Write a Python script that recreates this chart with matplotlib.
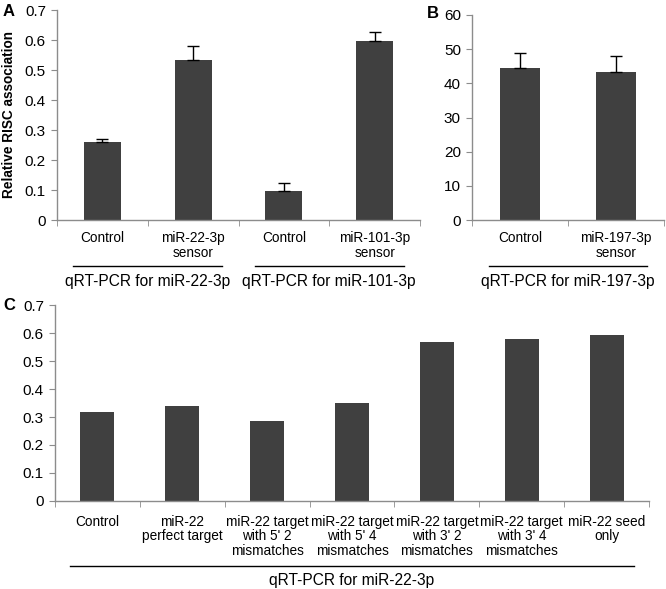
import numpy as np
import matplotlib
matplotlib.use("Agg")
import matplotlib.pyplot as plt
from matplotlib.transforms import blended_transform_factory

plt.rcParams['font.family'] = ['Liberation Sans', 'DejaVu Sans']

# panel A
a_labels = ['Control', 'miR-22-3p\nsensor', 'Control', 'miR-101-3p\nsensor']
a_values = [0.26, 0.535, 0.098, 0.597]
a_errors = [0.01, 0.044, 0.024, 0.031]
a_groups = [('qRT-PCR for miR-22-3p', 0, 1), ('qRT-PCR for miR-101-3p', 2, 3)]

# panel B
b_labels = ['Control', 'miR-197-3p\nsensor']
b_values = [44.6, 43.2]
b_errors = [4.2, 4.9]
b_groups = [('qRT-PCR for miR-197-3p', 0, 1)]

# panel C
c_labels = ['Control', 'miR-22\nperfect target', 'miR-22 target\nwith 5\' 2\nmismatches',
            'miR-22 target\nwith 5\' 4\nmismatches', 'miR-22 target\nwith 3\' 2\nmismatches',
            'miR-22 target\nwith 3\' 4\nmismatches', 'miR-22 seed\nonly']
c_values = [0.319, 0.338, 0.284, 0.351, 0.568, 0.58, 0.592]
c_groups = [('qRT-PCR for miR-22-3p', 0, 6)]

W, H = 666, 589
fig = plt.figure(figsize=(W / 100, H / 100), dpi=100)

BAR = '#404040'
SPINE = '#8c8c8c'


def px_axes(x0, y0, x1, y1):
    return fig.add_axes([x0 / W, 1 - y1 / H, (x1 - x0) / W, (y1 - y0) / H])


def style(ax, labels, ymax, ystep, yfmt, line_y, text_y, groups, pad=10):
    n = len(labels)
    ax.set_xlim(-0.5, n - 0.5)
    ax.set_ylim(0, ymax)
    ticks = np.arange(0, ymax + ystep / 2, ystep)
    ax.set_yticks(ticks)
    ax.set_yticklabels([yfmt(v) for v in ticks], fontsize=11)
    ax.set_xticks(range(n))
    ax.set_xticklabels(labels, fontsize=9.8, linespacing=1.05)
    ax.set_xticks(np.arange(-0.5, n), minor=True)
    ax.tick_params(axis='x', which='major', length=0, pad=pad)
    ax.tick_params(axis='x', which='minor', length=4, color=SPINE, direction='out')
    ax.tick_params(axis='y', length=4, color=SPINE, pad=4)
    for s in ['top', 'right']:
        ax.spines[s].set_visible(False)
    for s in ['left', 'bottom']:
        ax.spines[s].set_color(SPINE)
        ax.spines[s].set_linewidth(1.0)
    tr = blended_transform_factory(ax.transData, ax.transAxes)
    for name, i, j in groups:
        ax.plot([i - 0.32, j + 0.32], [line_y, line_y], transform=tr, color='black',
                lw=1.0, clip_on=False)
        ax.text((i + j) / 2, text_y, name, transform=tr, ha='center', va='center',
                fontsize=11.2)


# A
axA = px_axes(57, 10, 420, 220)
axA.bar(range(len(a_values)), a_values, width=0.41, color=BAR, zorder=2)
axA.errorbar(range(len(a_values)), a_values, yerr=[np.zeros(len(a_errors)), a_errors],
             fmt='none', ecolor='black', elinewidth=1, capsize=4, capthick=1, zorder=3)
style(axA, a_labels, 0.7, 0.1, lambda v: '0' if v == 0 else f'{v:.1f}', -0.219, -0.295,
      a_groups, pad=8)
axA.set_ylabel('Relative RISC association', fontsize=9.8, fontweight='bold', labelpad=6)

# B
axB = px_axes(472, 15, 664, 220)
axB.bar(range(len(b_values)), b_values, width=0.41, color=BAR, zorder=2)
axB.errorbar(range(len(b_values)), b_values, yerr=[np.zeros(len(b_errors)), b_errors],
             fmt='none', ecolor='black', elinewidth=1, capsize=4, capthick=1, zorder=3)
style(axB, b_labels, 60, 10, lambda v: f'{int(v)}', -0.224, -0.302, b_groups, pad=8)

# C
axC = px_axes(55, 305, 649, 501)
axC.bar(range(len(c_values)), c_values, width=0.4, color=BAR, zorder=2)
style(axC, c_labels, 0.7, 0.1, lambda v: '0' if v == 0 else f'{v:.1f}', -0.332, -0.405,
      c_groups, pad=10)

# panel letters
fig.text(3 / W, 1 - 11 / H, 'A', fontsize=12, fontweight='bold', va='center')
fig.text(427 / W, 1 - 14 / H, 'B', fontsize=12, fontweight='bold', va='center')
fig.text(3 / W, 1 - 305 / H, 'C', fontsize=12, fontweight='bold', va='center')

fig.savefig('out.png', dpi=100)
